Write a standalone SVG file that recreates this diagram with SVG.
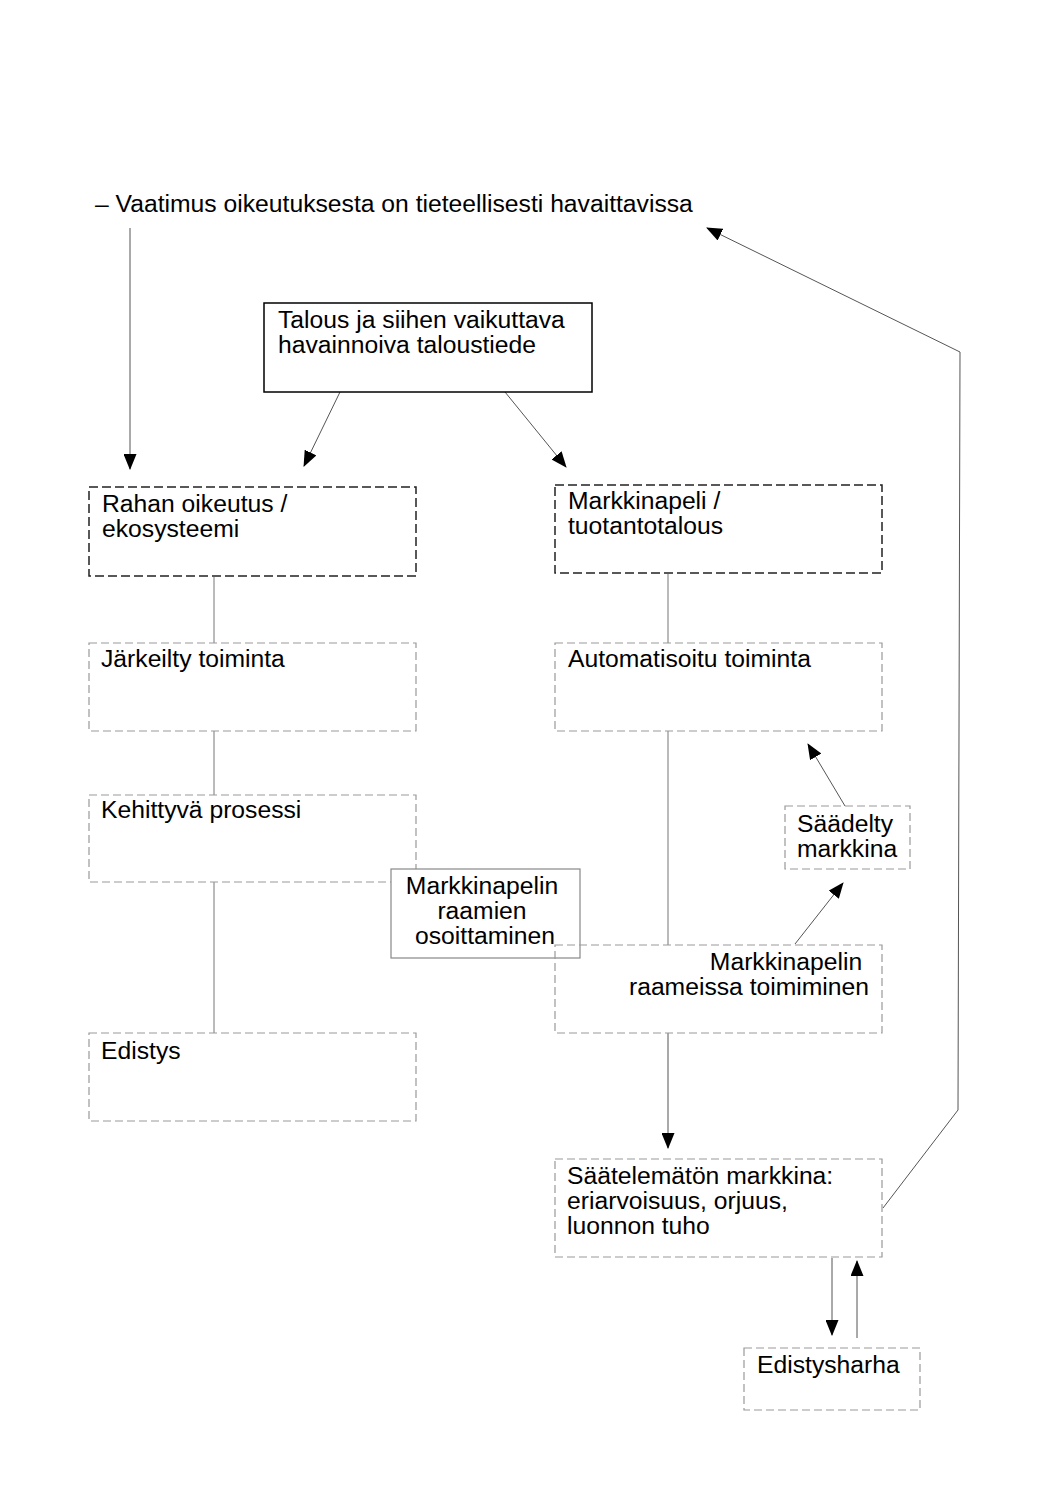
<svg xmlns="http://www.w3.org/2000/svg" width="1058" height="1497" viewBox="0 0 1058 1497">
<defs>
<style>
text{font-family:"Liberation Sans",Arial,sans-serif;font-size:24.7px;fill:#000}
.solid{fill:#fff;stroke:#000;stroke-width:1.5}
.gsolid{fill:#fff;stroke:#888;stroke-width:1.2}
.dk{fill:none;stroke:#222;stroke-width:1.5;stroke-dasharray:9 4}
.lt{fill:none;stroke:#999;stroke-width:1.2;stroke-dasharray:8 4}
.ln{fill:none;stroke:#777;stroke-width:1}
.ar{fill:none;stroke:#555;stroke-width:1;marker-end:url(#ah)}
</style>
<marker id="ah" viewBox="0 0 16 13" refX="15" refY="6.5" markerWidth="16" markerHeight="13" markerUnits="userSpaceOnUse" orient="auto">
<path d="M0,0 L16,6.5 L0,13 Z" fill="#000"/>
</marker>
</defs>
<rect width="1058" height="1497" fill="#fff"/>
<text x="95" y="212">– Vaatimus oikeutuksesta on tieteellisesti havaittavissa</text>
<g id="connectors">
<line class="ar" x1="130" y1="228" x2="130" y2="469"/>
<line class="ar" x1="340" y1="392" x2="304" y2="466"/>
<line class="ar" x1="505" y1="392" x2="566" y2="467"/>
<line class="ln" x1="214" y1="577" x2="214" y2="643"/>
<line class="ln" x1="214" y1="731" x2="214" y2="795"/>
<line class="ln" x1="214" y1="882" x2="214" y2="1033"/>
<line class="ln" x1="668" y1="574" x2="668" y2="643"/>
<line class="ln" x1="668" y1="731" x2="668" y2="945"/>
<line class="ar" x1="795" y1="944" x2="843" y2="883"/>
<line class="ar" x1="845" y1="806" x2="808" y2="744"/>
<line class="ar" x1="668" y1="1033" x2="668" y2="1148"/>
<line class="ar" x1="832" y1="1258" x2="832" y2="1335"/>
<line class="ar" x1="857" y1="1338" x2="857" y2="1261"/>
<polyline class="ar" points="883,1208 958,1110 960,352 707,228"/>
</g>
<g id="n-top">
<rect class="solid" x="264" y="303" width="328" height="89"/>
<text x="278" y="328">Talous ja siihen vaikuttava</text>
<text x="278" y="353">havainnoiva taloustiede</text>
</g>
<g id="n-rahan">
<rect class="dk" x="89" y="487" width="327" height="89"/>
<text x="102" y="512">Rahan oikeutus /</text>
<text x="102" y="537">ekosysteemi</text>
</g>
<g id="n-markkinapeli">
<rect class="dk" x="555" y="485" width="327" height="88"/>
<text x="568" y="509">Markkinapeli /</text>
<text x="568" y="534">tuotantotalous</text>
</g>
<g id="n-jarkeilty">
<rect class="lt" x="89" y="643" width="327" height="88"/>
<text x="101" y="667">Järkeilty toiminta</text>
</g>
<g id="n-kehittyva">
<rect class="lt" x="89" y="795" width="327" height="87"/>
<text x="101" y="818">Kehittyvä prosessi</text>
</g>
<g id="n-edistys">
<rect class="lt" x="89" y="1033" width="327" height="88"/>
<text x="101" y="1059">Edistys</text>
</g>
<g id="n-automatisoitu">
<rect class="lt" x="555" y="643" width="327" height="88"/>
<text x="568" y="667">Automatisoitu toiminta</text>
</g>
<g id="n-osoittaminen">
<rect class="gsolid" x="391" y="869" width="189" height="89"/>
<text x="482" y="894" text-anchor="middle">Markkinapelin</text>
<text x="482" y="919" text-anchor="middle">raamien</text>
<text x="485" y="944" text-anchor="middle">osoittaminen</text>
</g>
<g id="n-raameissa">
<rect class="lt" x="555" y="945" width="327" height="88"/>
<text x="786" y="970" text-anchor="middle">Markkinapelin</text>
<text x="749" y="995" text-anchor="middle">raameissa toimiminen</text>
</g>
<g id="n-saadelty">
<rect class="lt" x="785" y="806" width="125" height="63"/>
<text x="797" y="832">Säädelty</text>
<text x="797" y="857">markkina</text>
</g>
<g id="n-saatelematon">
<rect class="lt" x="555" y="1159" width="327" height="98"/>
<text x="567" y="1184">Säätelemätön markkina:</text>
<text x="567" y="1209">eriarvoisuus, orjuus,</text>
<text x="567" y="1234">luonnon tuho</text>
</g>
<g id="n-edistysharha">
<rect class="lt" x="744" y="1348" width="176" height="62"/>
<text x="757" y="1373">Edistysharha</text>
</g>
</svg>
